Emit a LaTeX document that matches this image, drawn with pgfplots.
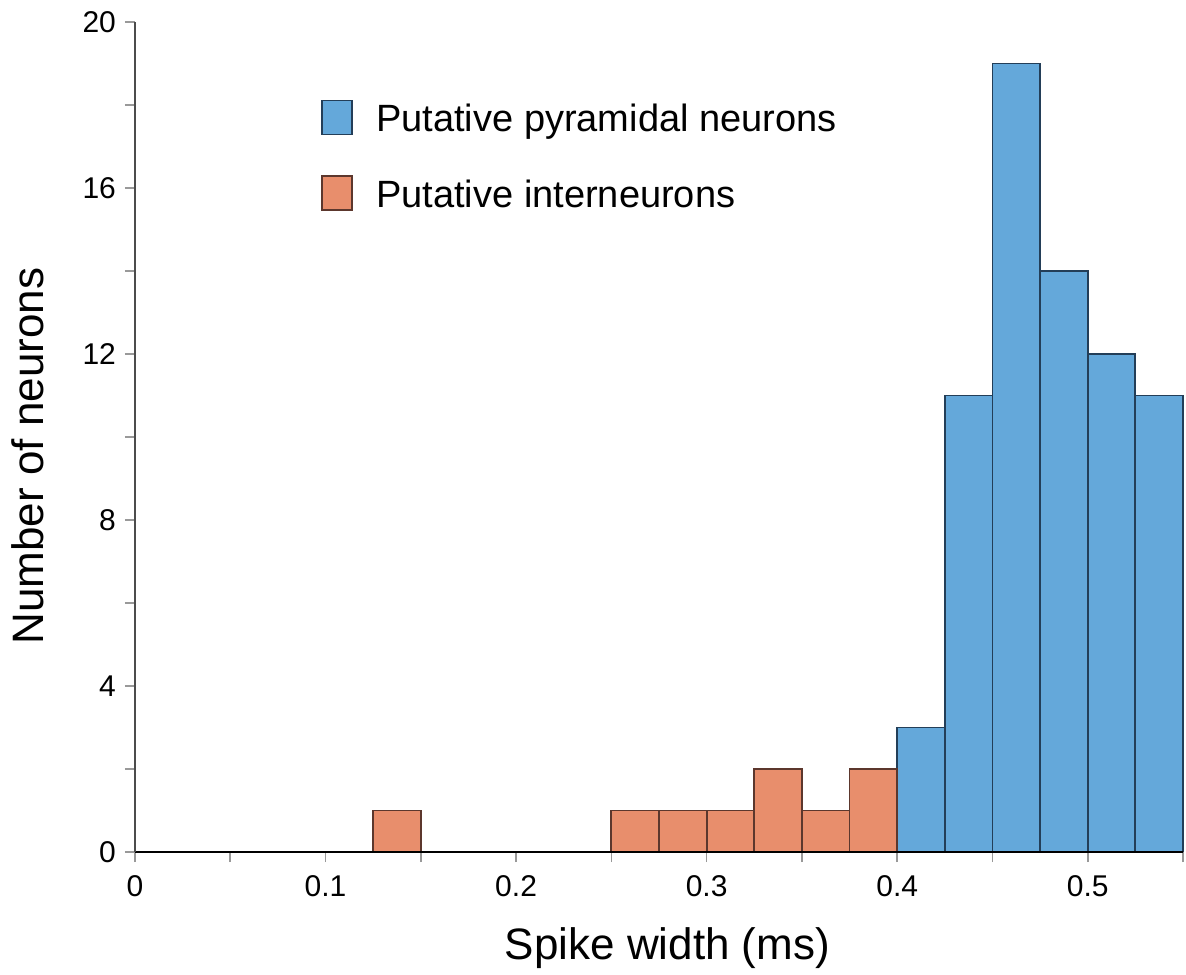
\documentclass[border=0pt]{standalone}
\usepackage{fontspec}
\setmainfont{Liberation Sans}
\usepackage{pgfplots}
\pgfplotsset{compat=1.18}

\definecolor{pyrblue}{RGB}{100,168,218}
\definecolor{pyredge}{RGB}{35,62,88}
\definecolor{intorange}{RGB}{232,142,108}
\definecolor{intedge}{RGB}{92,55,45}

\pgfplotsset{
  sq legend/.style={legend image code/.code={\draw[##1] (0pt,-8.5pt) rectangle (15pt,8.5pt);}}
}

\begin{document}
\begin{tikzpicture}
\begin{axis}[
    name=ax,
    scale only axis,
    width=524pt, height=415pt,
    xmin=0, xmax=0.55, ymin=0, ymax=20,
    axis x line*=bottom, axis y line*=left,
    x axis line style={black, line width=1pt},
    y axis line style={black!70, line width=1pt},
    xtick={0,0.1,0.2,0.3,0.4,0.5},
    minor xtick={0.05,0.15,0.25,0.35,0.45,0.55},
    ytick={0,4,8,12,16,20},
    minor ytick={2,6,10,14,18},
    tick align=outside,
    major tick length=5pt, minor tick length=5pt,
    every tick/.style={black!40, line width=0.8pt},
    /pgf/number format/assume math mode=true,
    tick label style={font=\fontsize{15}{18}\selectfont},
    xticklabel style={yshift=-3pt},
    yticklabel style={xshift=-1pt},
    xlabel={Spike width (ms)},
    ylabel={Number of neurons},
    label style={font=\fontsize{22}{26}\selectfont},
    xlabel style={at={(axis description cs:0.508,0)}, anchor=center, yshift=-48pt},
    ylabel style={at={(axis description cs:0,0.477)}, anchor=center, yshift=53.5pt},
    legend style={at={(axis description cs:0.1775,0.907)}, anchor=north west,
      draw=none, fill=none, inner sep=0pt, row sep=20pt,
      font=\fontsize{19}{22}\selectfont,
      nodes={inner sep=0pt, text depth=0pt}},
    legend cell align=left,
    axis on top,
    clip=false,
]
\addplot[ybar, bar width=0.025, bar shift=0pt, fill=pyrblue, draw=pyredge, line width=0.9pt, sq legend]
  coordinates {(0.4125,3) (0.4375,11) (0.4625,19) (0.4875,14) (0.5125,12) (0.5375,11)};
\addlegendentry{\hspace{11.5pt}Putative pyramidal neurons}
\addplot[ybar, bar width=0.025, bar shift=0pt, fill=intorange, draw=intedge, line width=0.9pt, sq legend]
  coordinates {(0.1375,1) (0.2625,1) (0.2875,1) (0.3125,1) (0.3375,2) (0.3625,1) (0.3875,2)};
\addlegendentry{\hspace{11.5pt}Putative interneurons}
\end{axis}
\pgfresetboundingbox
\path[use as bounding box] ([xshift=-67.5pt,yshift=-61pt]ax.south west) rectangle ([xshift=1.5pt,yshift=11pt]ax.north east);
\end{tikzpicture}
\end{document}
